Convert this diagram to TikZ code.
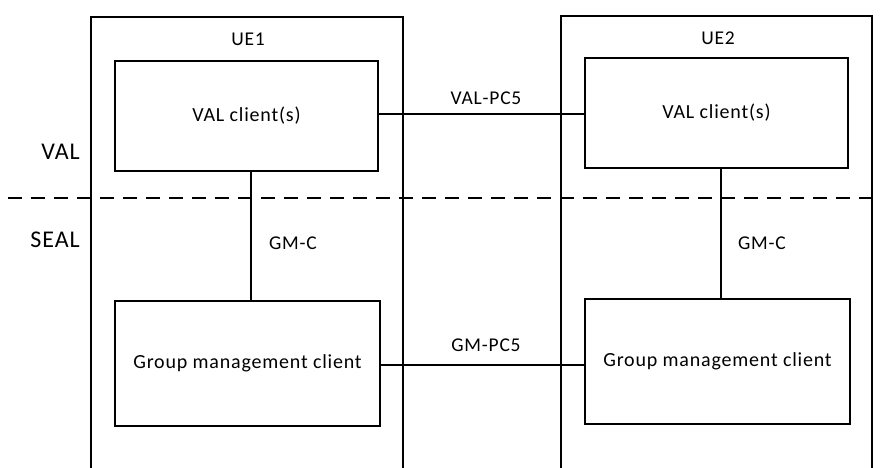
\documentclass[tikz,border=0pt]{standalone}
\usepackage{fontspec}
\setmainfont{Carlito}[LetterSpace=4]
\begin{document}
\begin{tikzpicture}[x=1pt,y=-1pt,
  box/.style={draw,line width=1.3pt,inner sep=0pt,font=\fontsize{20}{23}\selectfont},
  lbl/.style={inner sep=0pt,font=\fontsize{19.5}{23}\selectfont},
  layer/.style={inner sep=0pt,anchor=east,font=\fontsize{24}{28}\selectfont},
  link/.style={line width=1.3pt},
  ue/.style={line width=1.3pt}]
\useasboundingbox (0,0) rectangle (880,468);
% UE outlines
\draw[ue] (91,468) -- (91,17) -- (403,17) -- (403,468);
\draw[ue] (561,468) -- (561,16) -- (872,16) -- (872,468);
\node[lbl] (ue1) at (248,39) {UE1};
\node[lbl] (ue2) at (718,38) {UE2};
% boxes
\node[box,minimum width=263pt,minimum height=110pt] (val1) at (246.5,116) {VAL client(s)};
\node[box,minimum width=265pt,minimum height=125pt] (gm1) at (247.5,363.5) {Group management client};
\node[box,minimum width=263pt,minimum height=110pt] (val2) at (716.5,113) {VAL client(s)};
\node[box,minimum width=265pt,minimum height=125pt] (gm2) at (717.5,361.5) {Group management client};
% dashed layer separator
\coordinate (dl) at (8,198);
\coordinate (dr) at (880,198);
\draw[line width=1.8pt,dash pattern=on 14pt off 9pt] (dl) -- (dr);
\node[layer] (val) at (80,152) {VAL};
\node[layer] (seal) at (80,240) {SEAL};
% connectors
\draw[link] ([xshift=4.5pt]val1.south) -- ([xshift=4.5pt]val1.south |- gm1.north);
\draw[link] ([xshift=4.5pt]val2.south) -- ([xshift=4.5pt]val2.south |- gm2.north);
\draw[link] ([yshift=2pt]val1.east) -- ([yshift=2pt]val1.east -| val2.west);
\draw[link] ([yshift=-1.5pt]gm1.east) -- ([yshift=-1.5pt]gm1.east -| gm2.west);
\node[lbl] (gmc1) at (293,243) {GM-C};
\node[lbl] (gmc2) at (762,243) {GM-C};
\node[lbl] (valpc5) at (486,98) {VAL-PC5};
\node[lbl] (gmpc5) at (486,345) {GM-PC5};
\end{tikzpicture}
\end{document}
